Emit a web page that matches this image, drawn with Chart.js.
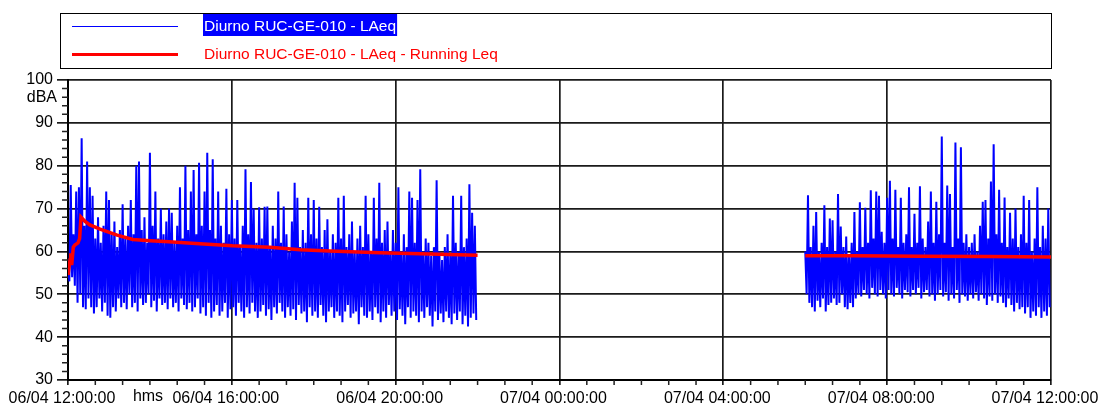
<!DOCTYPE html>
<html>
<head>
<meta charset="utf-8">
<title>Diurno RUC-GE-010 - LAeq</title>
<script src="https://cdn.jsdelivr.net/npm/chart.js@4.4.1/dist/chart.umd.min.js"></script>
<style>
  body { margin: 0; background: #fff; }
  #wrap { width: 1100px; height: 412px; }
</style>
</head>
<body>
<div id="wrap"><canvas id="noiseChart" width="1100" height="412"></canvas></div>
<script>
// minutes from 06/04 12:00:00
const xTickLabels = ["06/04 12:00:00", "06/04 16:00:00", "06/04 20:00:00", "07/04 00:00:00",
  "07/04 04:00:00", "07/04 08:00:00", "07/04 12:00:00"];
const yTicks = [30, 40, 50, 60, 70, 80, 90, 100];

// LAeq, first block (12:00 -> 22:00), peak / trough pairs every 4 min
const seg1Start = 0;
const seg1Hi = [
  56, 75.5, 64, 74, 75, 86.4, 66, 81, 75, 73,
  63, 68, 62, 66, 74, 72, 64, 67, 61, 65,
  71, 63, 66, 72, 64, 80, 81, 65, 68, 62,
  83, 66, 74, 63, 70, 64, 67, 70, 69, 62,
  66, 75, 63, 80, 65, 74, 79, 64, 80.7, 66,
  74, 83, 65, 81.5, 63, 74, 66, 62, 74.6, 64,
  72, 63, 72, 61, 66, 79.2, 64, 76.2, 70, 62,
  70.3, 63, 70.4, 70.5, 61, 66, 63, 74, 62, 70.5,
  64, 60, 67, 76, 72.5, 61, 65, 62, 72.5, 64,
  72, 63, 70.4, 61, 65, 67.5, 60, 64, 62, 72.5,
  63, 73, 61, 64, 67, 60, 63, 66, 61, 73,
  64, 60, 72.5, 63, 76, 62, 65, 67, 60, 65,
  62, 75, 60, 64, 61, 74, 72.5, 62, 72, 79.2,
  60, 63, 62, 59, 61, 76.6, 60, 58, 61, 64,
  59, 73, 62, 60, 73, 61, 63, 75.7, 69, 66
];
const seg1Lo = [
  53, 54, 52, 48, 50, 47, 46.5, 49, 47, 45.5,
  47, 49, 46, 48, 45, 44.5, 47, 46, 49, 47,
  48, 46.5, 50, 47, 48, 46, 49, 47.5, 48, 50,
  47, 48.5, 46, 49, 47.5, 48, 46.5, 49, 47, 48,
  46, 49, 47.5, 46.5, 48, 46, 47, 49, 45.5, 47,
  45, 48, 44.5, 46, 47.5, 45, 46, 48, 44.5, 46.5,
  47, 45, 48, 46, 44.5, 47, 45.5, 48, 46, 44.5,
  46, 47.5, 45, 46.5, 44, 47, 45.5, 48, 46, 44.5,
  47, 45, 46.5, 44, 47.5, 45.5, 46, 43.5, 47, 45,
  46, 44.5, 47.5, 45, 43.5, 46, 47, 44.5, 46, 45,
  43.5, 46, 47.5, 44.5, 45.5, 46, 43, 47, 45, 44.5,
  46, 44, 47, 45.5, 43.5, 46, 44.5, 47.5, 45, 46,
  44, 46.5, 45, 43, 47, 44.5, 46, 45, 43.5, 46,
  44.5, 47, 45, 42.5, 46, 44, 45.5, 43.5, 46, 44.5,
  43, 45.5, 44, 46, 43, 45, 42.5, 44.5, 45.5, 44
];

// LAeq, second block (06:00 -> 12:00)
const seg2Start = 1080;
const seg2Hi = [
  60, 73.1, 61, 66, 69.2, 60, 62, 70.8, 61, 67.7,
  67.3, 60, 73.4, 65.8, 61, 63.5, 59, 62, 69.2, 60,
  71.5, 61, 70.2, 62, 74.3, 63, 74, 73, 64.6, 62,
  72.5, 76.5, 63, 74.4, 61, 72.5, 62, 64, 75, 61,
  68.8, 62, 75.2, 63, 61, 67, 74, 62, 71.6, 64,
  86.8, 62, 75.4, 73.4, 61, 85.4, 63, 84.3, 62, 64,
  61, 62, 64, 60, 66, 71.6, 72, 63, 76.3, 85,
  64, 74.4, 62, 72.6, 61, 69, 63, 70, 61, 64,
  73, 62, 72, 60, 63, 75, 61, 66, 63, 70
];
const seg2Lo = [
  50, 48, 47, 46, 48.5, 47, 49, 46, 47.5, 48,
  49, 47.5, 48, 50, 47, 46.5, 48, 47, 49, 50,
  49.5, 51, 50, 49, 51.5, 50, 49.5, 51, 50, 49,
  51, 50, 49.5, 51.5, 50, 49, 51, 50.5, 49.5, 51,
  50, 51.5, 49, 50.5, 51, 49.5, 50, 48.5, 50, 51,
  49.5, 50.5, 48.5, 50, 49, 51, 48, 50, 49.5, 48.5,
  50, 49, 50.5, 48.5, 50, 49, 47.5, 49.5, 48.5, 50,
  48, 49.5, 48, 47, 49, 47.5, 46, 48, 46.5, 47,
  45.5, 47, 44.5, 46, 45, 47, 44.5, 46, 45, 47
];

// Running Leq
const run1X = [0, 3, 4, 5.4, 7.8, 10, 14.6, 17, 19, 25, 32, 47, 72, 95, 110, 120, 142, 193, 241, 296, 340, 383, 457, 530, 600];
const run1Y = [54.5, 58, 59.6, 56.8, 61, 61.5, 62, 63, 68, 67, 66.2, 65.2, 63.8, 62.8, 62.6, 62.5, 62.3, 61.8, 61.3, 61, 60.4, 60.1, 59.7, 59.4, 59.1];
const run2X = [1080, 1150, 1250, 1350, 1440];
const run2Y = [59.0, 59.0, 58.9, 58.8, 58.7];

const FONT = "'Liberation Sans', Arial, sans-serif";

function pairs(start, hi, lo) {
  const pts = [];
  for (let i = 0; i < hi.length; i++) {
    pts.push({ x: start + i * 4, y: hi[i] });
    pts.push({ x: start + i * 4 + 2, y: lo[i] });
  }
  return pts;
}
function line(xs, ys) {
  return xs.map((x, i) => ({ x: x, y: ys[i] }));
}

const laeq = pairs(seg1Start, seg1Hi, seg1Lo)
  .concat([{ x: 840, y: null }])
  .concat(pairs(seg2Start, seg2Hi, seg2Lo));
const running = line(run1X, run1Y)
  .concat([{ x: 840, y: null }])
  .concat(line(run2X, run2Y));

const legendWidths = [1, 3];

const extras = {
  id: "extras",
  afterDraw(chart) {
    const ctx = chart.ctx;
    const x = chart.scales.x;
    const y = chart.scales.y;
    ctx.save();
    // minor ticks
    ctx.strokeStyle = "#222";
    ctx.lineWidth = 1.5;
    ctx.beginPath();
    for (let v = 30; v <= 100; v += 2) {
      if (v % 10 === 0) continue;
      const py = y.getPixelForValue(v);
      ctx.moveTo(y.right - 6, py);
      ctx.lineTo(y.right, py);
    }
    for (let m = 0; m <= 1440; m += 40) {
      if (m % 240 === 0) continue;
      const px = x.getPixelForValue(m);
      ctx.moveTo(px, x.top);
      ctx.lineTo(px, x.top + 5);
    }
    ctx.stroke();

    // unit labels
    ctx.fillStyle = "#000";
    ctx.font = "16px " + FONT;
    ctx.textAlign = "right";
    ctx.textBaseline = "middle";
    ctx.fillText("dBA", y.right - 11, y.getPixelForValue(96));
    ctx.textAlign = "center";
    ctx.textBaseline = "top";
    ctx.fillText("hms", 148, x.top + 9);

    // legend box
    ctx.strokeStyle = "#000";
    ctx.lineWidth = 1;
    ctx.strokeRect(60.5, 13.5, 991, 55);
    ctx.font = "15.5px " + FONT;
    ctx.textAlign = "left";
    ctx.textBaseline = "middle";
    chart.data.datasets.forEach((ds, i) => {
      const ly = 26.5 + i * 28;
      ctx.strokeStyle = ds.borderColor;
      ctx.lineWidth = legendWidths[i];
      ctx.beginPath();
      ctx.moveTo(72, ly);
      ctx.lineTo(178, ly);
      ctx.stroke();
      if (i === 0) {
        const w = ctx.measureText(ds.label).width;
        ctx.fillStyle = "#0000ff";
        ctx.fillRect(203, 14, w + 2, 22);
        ctx.fillStyle = "#fff";
      } else {
        ctx.fillStyle = ds.borderColor;
      }
      ctx.fillText(ds.label, 204, ly);
    });
    ctx.restore();
  }
};

new Chart(document.getElementById("noiseChart"), {
  type: "line",
  data: {
    datasets: [
      {
        label: "Diurno RUC-GE-010 - LAeq",
        data: laeq,
        borderColor: "#0000ff",
        borderWidth: 2,
        pointRadius: 0,
        spanGaps: false,
        order: 2
      },
      {
        label: "Diurno RUC-GE-010 - LAeq - Running Leq",
        data: running,
        borderColor: "#ff0000",
        borderWidth: 3.5,
        pointRadius: 0,
        spanGaps: false,
        order: 1
      }
    ]
  },
  options: {
    responsive: false,
    animation: false,
    layout: { padding: { top: 80, right: 49, bottom: 0, left: 0 } },
    plugins: { legend: { display: false }, tooltip: { enabled: false } },
    elements: { line: { tension: 0 } },
    scales: {
      x: {
        type: "linear",
        min: 0,
        max: 1440,
        afterFit(s) { s.height = 32; s.paddingLeft = 0; s.paddingRight = 0; },
        afterBuildTicks(s) { s.ticks = xTickLabels.map((_, i) => ({ value: i * 240 })); },
        ticks: {
          autoSkip: false,
          maxRotation: 0,
          padding: 4,
          labelOffset: -6,
          color: "#000",
          font: { family: FONT, size: 16 },
          callback: (v) => xTickLabels[v / 240]
        },
        grid: { color: "#1a1a1a", lineWidth: 1.7, tickLength: 5 },
        border: { color: "#000", width: 2 }
      },
      y: {
        min: 30,
        max: 100,
        afterFit(s) { s.width = 68; },
        afterBuildTicks(s) { s.ticks = yTicks.map((v) => ({ value: v })); },
        ticks: {
          padding: 4,
          color: "#000",
          font: { family: FONT, size: 16 }
        },
        grid: { color: "#1a1a1a", lineWidth: 1.7, tickLength: 11 },
        border: { color: "#000", width: 2 }
      }
    }
  },
  plugins: [extras]
});
</script>
</body>
</html>
